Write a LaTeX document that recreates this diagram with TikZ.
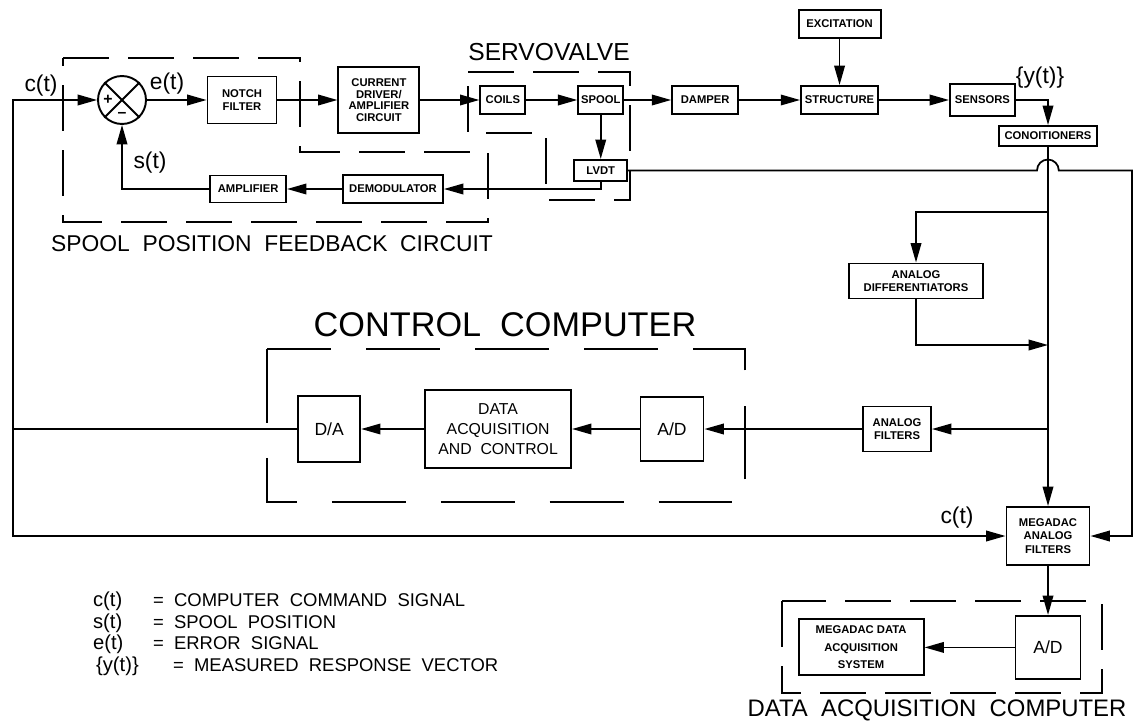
\documentclass[tikz,border=0pt]{standalone}
\usepackage{fontspec}
\setmainfont{Liberation Sans}
\usetikzlibrary{arrows.meta,positioning}

\begin{document}
\begin{tikzpicture}[x=0.02cm, y=-0.02cm,
    blk/.style={rectangle, draw, line width=1.1pt, inner sep=1pt,
                align=center, minimum width=0.9cm, minimum height=0.56cm,
                font=\fontsize{6.4}{7.5}\selectfont\bfseries},
    bigblk/.style={blk, font=\fontsize{9}{11.3}\selectfont},
    arr/.style={-{Triangle[length=11pt,width=6pt]}, line width=1pt},
    grp/.style={line width=1pt, dash pattern=on 26pt off 11pt},
    sig/.style={font=\fontsize{13}{14}\selectfont},
    ttl/.style={font=\fontsize{14}{15}\selectfont},
    lgd/.style={anchor=base west, inner sep=1pt, font=\fontsize{10.5}{12}\selectfont},
  ]
    \useasboundingbox (0,0) rectangle (1135,723);
    \fill[white] (0,0) rectangle (1135,723);

    % summing junction
    \node[circle, draw, line width=1.1pt, minimum size=0.96cm, inner sep=0pt] (sum) at (122,100) {};
    \draw[line width=1.1pt] (sum.north west) -- (sum.south east) (sum.north east) -- (sum.south west);
    \node[font=\bfseries\small] (plus) at ([xshift=-0.28cm]sum.center) {+};
    \node[font=\bfseries\small] (minus) at ([yshift=-0.3cm]sum.center) {--};

    % forward path
    \node[blk, minimum width=1.38cm, minimum height=0.94cm] (notch) at (242,100) {NOTCH\\FILTER};
    \node[blk, minimum width=1.62cm, minimum height=1.32cm, right=1.2cm of notch,
          font=\fontsize{6.4}{6.5}\selectfont\bfseries] (drv) {CURRENT\\DRIVER/\\AMPLIFIER\\CIRCUIT};
    \node[blk, right=1.18cm of drv]  (coils)  {COILS};
    \node[blk, right=1.02cm of coils] (spool) {SPOOL};
    \node[blk, minimum width=1.32cm, right=0.94cm of spool]  (damper) {DAMPER};
    \node[blk, minimum width=1.54cm, right=1.22cm of damper] (struct) {STRUCTURE};
    \node[blk, minimum width=1.3cm, minimum height=0.64cm, right=1.4cm of struct] (sens) {SENSORS};
    \node[blk, minimum width=1.64cm, above=0.92cm of struct] (exc) {EXCITATION};
    \node[blk, minimum width=1.96cm, minimum height=0.4cm] (cond) at (1048,136) {CONOITIONERS};

    % spool position feedback
    \node[blk, minimum width=1.06cm, minimum height=0.42cm, below=0.88cm of spool] (lvdt) {LVDT};
    \node[blk, minimum width=2.0cm] (demod) at (393,189) {DEMODULATOR};
    \node[blk, minimum width=1.52cm, minimum height=0.54cm, left=1.1cm of demod] (amp) {AMPLIFIER};

    % measurement side
    \node[blk, minimum width=2.68cm, minimum height=0.7cm] (diff) at (916,281) {ANALOG\\DIFFERENTIATORS};
    \node[blk, minimum width=1.36cm, minimum height=0.9cm] (af) at (897,429) {ANALOG\\FILTERS};
    \node[blk, minimum width=1.66cm, minimum height=1.16cm] (mega) at (1048,536) {MEGADAC\\ANALOG\\FILTERS};

    % control computer
    \node[bigblk, minimum width=1.26cm, minimum height=1.28cm, font=\fontsize{10}{11}\selectfont] (ad) at (672,429) {A/D};
    \node[bigblk, minimum width=2.92cm, minimum height=1.56cm, left=1.35cm of ad] (dac) {DATA\\ACQUISITION\\AND~~CONTROL};
    \node[bigblk, minimum width=1.24cm, minimum height=1.32cm, left=1.26cm of dac, font=\fontsize{10}{11}\selectfont] (da) {D/A};

    % data acquisition computer
    \node[bigblk, minimum width=1.3cm, minimum height=1.26cm, below=0.98cm of mega, font=\fontsize{10}{11}\selectfont] (ad2) {A/D};
    \node[blk, minimum width=2.5cm, minimum height=1.12cm, left=1.8cm of ad2,
          font=\fontsize{6.4}{10}\selectfont\bfseries] (das) {MEGADAC DATA\\ACQUISITION\\SYSTEM};

    \coordinate (ctop)  at (13,100);
    \coordinate (cmid)  at (13,429);
    \coordinate (j1)    at (1048,212);
    \coordinate (j2)    at (1048,345);
    \coordinate (j3)    at (1048,429);
    \coordinate (hop)   at (1037,168.5);
    \coordinate (redge) at (1132,168.5);

    \draw[arr] (da.west) -| (ctop) -- (sum.west);
    \draw[arr] (cmid) |- (mega.west);
    \draw[arr] (sum.east) -- (notch.west);
    \draw[arr] (notch) -- (drv);
    \draw[arr] (drv) -- (coils);
    \draw[arr] (coils) -- (spool);
    \draw[arr] (spool) -- (damper);
    \draw[arr] (damper) -- (struct);
    \draw[arr] (struct) -- (sens);
    \draw[arr] (exc) -- (struct);
    \draw[arr] (sens.east) -| (cond.north);
    \draw[arr] (spool) -- (lvdt);
    \draw[arr] (lvdt.south) |- (demod.east);
    \draw[arr] (demod) -- (amp);
    \draw[arr] (amp.west) -| (sum.south);
    \draw[arr] (lvdt.east) -- (lvdt.east -| hop) arc[start angle=180, end angle=0, radius=6.2pt]
               -- (lvdt.east -| redge) |- (mega.east);
    \draw[arr] (cond.south) -- (mega.north);
    \draw[arr] (j1) -| (diff.north);
    \draw[arr] (diff.south) |- (j2);
    \draw[arr] (j3) -- (af.east);
    \draw[arr] (af) -- (ad);
    \draw[arr] (ad) -- (dac);
    \draw[arr] (dac) -- (da);
    \draw[arr] (mega) -- (ad2);
    \draw[arr] (ad2) -- (das);

    % dashed groups
    \draw[grp] (63,58) -- (300,58) -- (300,152) -- (488,152) -- (488,222) -- (63,222) -- cycle;
    \draw[grp] (468,72) -- (630,72) -- (630,200) -- (546,200) -- (546,133) -- (468,133) -- cycle;
    \draw[grp, dash pattern=on 42pt off 20pt] (267,349) rectangle (745,502);
    \draw[grp] (782,601) rectangle (1102,693);

    \node[ttl, font=\fontsize{13}{14}\selectfont] (tfb) at (272,244) {SPOOL~~POSITION~~FEEDBACK~~CIRCUIT};
    \node[ttl] (tsv) at (549,52) {SERVOVALVE};
    \node[ttl, font=\fontsize{19.5}{20}\selectfont] (tcc) at (505,325) {CONTROL~~COMPUTER};
    \node[ttl, font=\fontsize{13.6}{14}\selectfont] (tdc) at (937,710) {DATA~~ACQUISITION~~COMPUTER};

    % signal labels
    \node[sig] (lc)  at (41,86)   {c(t)};
    \node[sig] (le)  at (167,84)  {e(t)};
    \node[sig] (ls)  at (150,163) {s(t)};
    \node[sig] (ly)  at (1040,78) {\{y(t)\}};
    \node[sig] (lc2) at (957,518) {c(t)};

    % legend
    \node[lgd, font=\fontsize{11.5}{12}\selectfont] (k1) at (91,606) {c(t)};
    \node[lgd, font=\fontsize{11.5}{12}\selectfont] (k2) at (91,628) {s(t)};
    \node[lgd, font=\fontsize{11.5}{12}\selectfont] (k3) at (91,649) {e(t)};
    \node[lgd, font=\fontsize{11.5}{12}\selectfont] (k4) at (94,671) {\{y(t)\}};
    \node[lgd] (e1) at (151,606) {=};
    \node[lgd] (e2) at (151,628) {=};
    \node[lgd] (e3) at (151,649) {=};
    \node[lgd] (e4) at (171,671) {=};
    \node[lgd] (d1) at (172,606) {COMPUTER~~COMMAND~~SIGNAL};
    \node[lgd] (d2) at (172,628) {SPOOL~~POSITION};
    \node[lgd] (d3) at (172,649) {ERROR~~SIGNAL};
    \node[lgd] (d4) at (192,671) {MEASURED~~RESPONSE~~VECTOR};
\end{tikzpicture}
\end{document}
